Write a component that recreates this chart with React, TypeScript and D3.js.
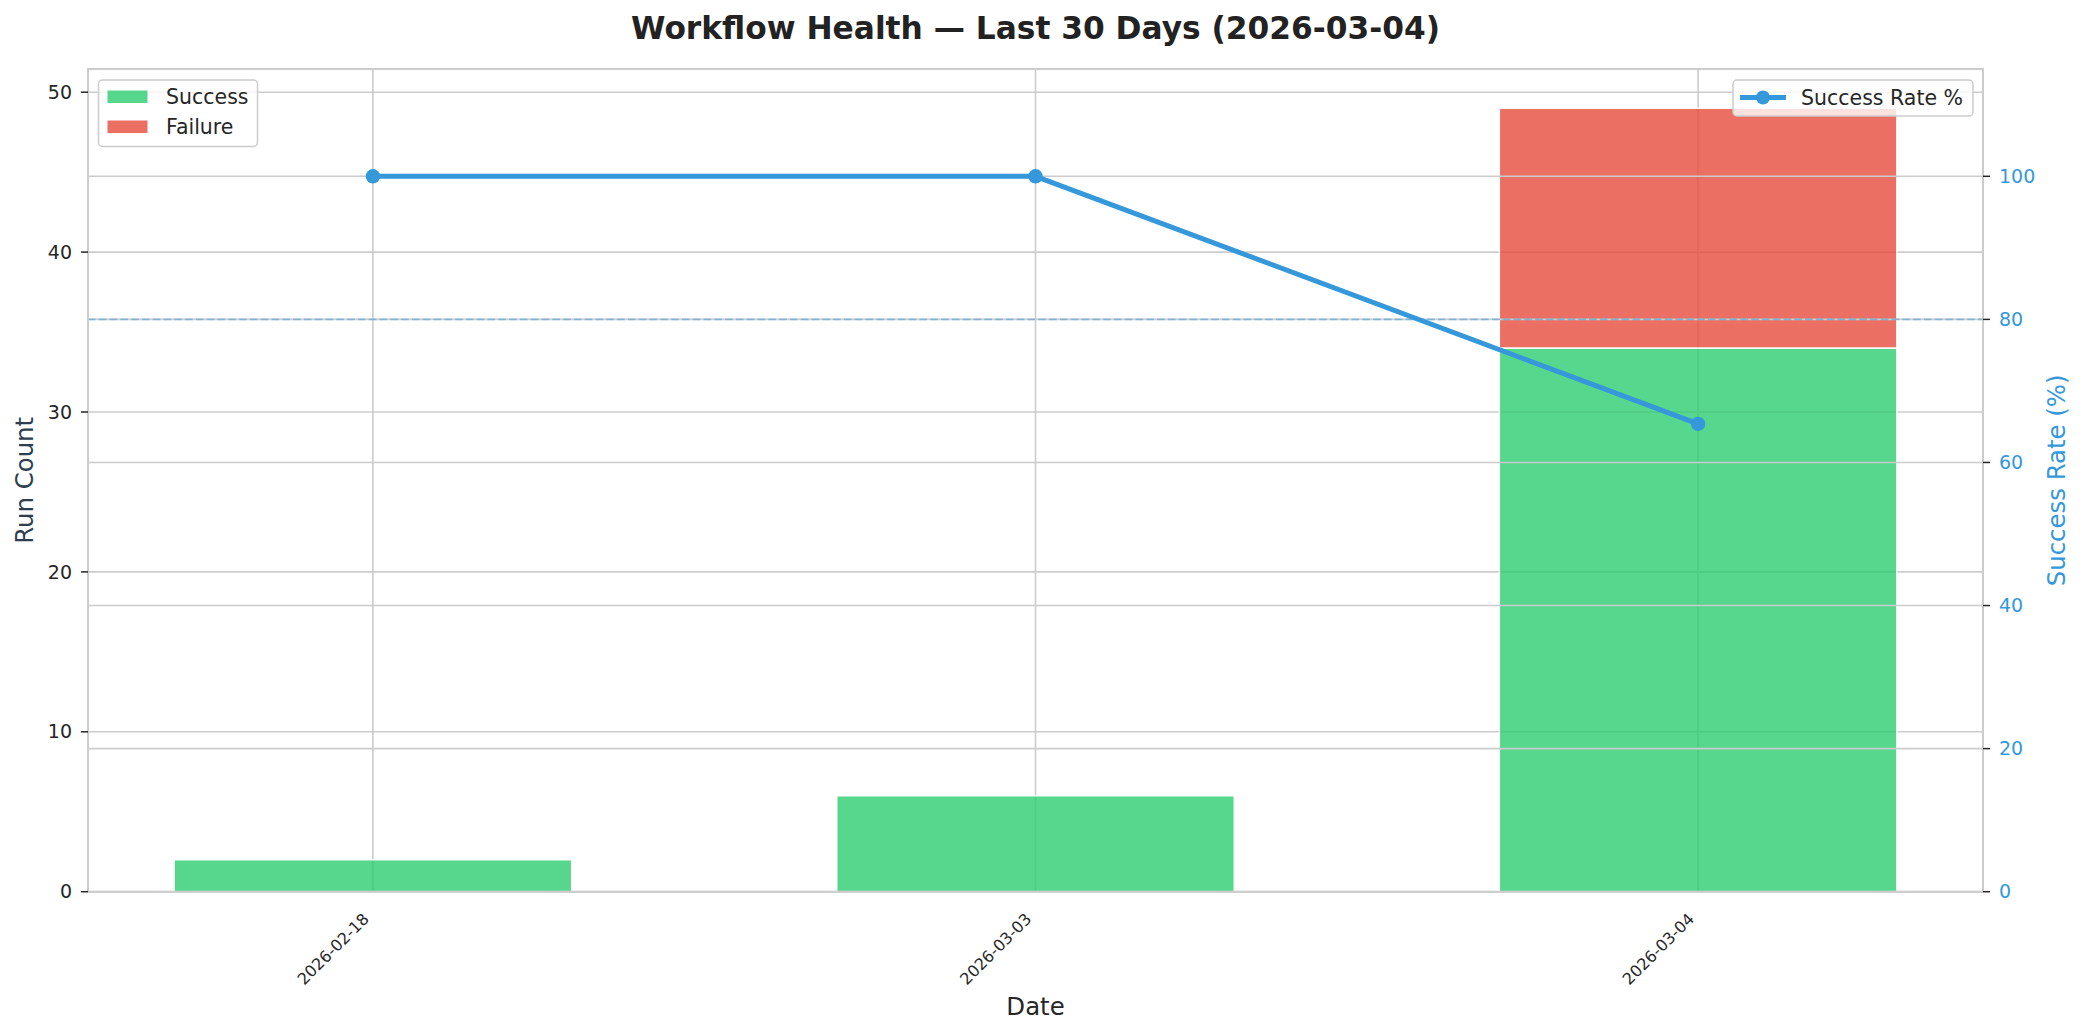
import React from 'react';
import * as d3 from 'd3';

const dates = ['2026-02-18', '2026-03-03', '2026-03-04'];
const successCounts = [2, 6, 34];
const failureCounts = [0, 0, 15];
const successRates = [100, 100, 65.4];
const leftTicks = [0, 10, 20, 30, 40, 50];
const rightTicks = [0, 20, 40, 60, 80, 100];
const targetRate = 80;
const titleText = 'Workflow Health — Last 30 Days (2026-03-04)';

const W = 2085;
const H = 1035;
const L = 88, R = 1983, T = 69, B = 891.7;
const FONT = 'DejaVu Sans, sans-serif';
const GREEN = '#2ecc71';
const RED = '#e74c3c';
const BLUE = '#3498db';
const GRID = '#cccccc';

export default function App() {
  const x = d3.scaleLinear().domain([-0.43, dates.length - 1 + 0.43]).range([L, R]);
  const maxTotal = d3.max(successCounts.map((s, i) => s + failureCounts[i])) as number;
  const yL = d3.scaleLinear().domain([0, maxTotal * 1.05]).range([B, T]);
  const yR = d3.scaleLinear().domain([0, 115]).range([B, T]);
  const bw = x(0.3) - x(-0.3);
  const line = d3.line<number>().x((_, i) => x(i)).y((d) => yR(d));

  return (
    <svg width={W} height={H} style={{ position: 'absolute', left: 0, top: 0, background: '#fff' }} fontFamily={FONT}>
      <rect x={0} y={0} width={W} height={H} fill="#fff" />
      {/* ax1 grid */}
      {leftTicks.map((t) => (
        <line key={'gl' + t} x1={L} x2={R} y1={yL(t)} y2={yL(t)} stroke={GRID} strokeWidth={1.6} />
      ))}
      {dates.map((d, i) => (
        <line key={'gx' + d} x1={x(i)} x2={x(i)} y1={T} y2={B} stroke={GRID} strokeWidth={1.6} />
      ))}
      {/* bars */}
      {dates.map((d, i) => (
        <g key={'bar' + d} opacity={0.8}>
          <rect x={x(i) - bw / 2} width={bw} y={yL(successCounts[i])} height={yL(0) - yL(successCounts[i])} fill={GREEN} stroke="#fff" strokeWidth={1.5} />
          {failureCounts[i] > 0 && (
            <rect x={x(i) - bw / 2} width={bw} y={yL(successCounts[i] + failureCounts[i])} height={yL(successCounts[i]) - yL(successCounts[i] + failureCounts[i])} fill={RED} stroke="#fff" strokeWidth={1.5} />
          )}
        </g>
      ))}
      {/* ax1 legend */}
      <g>
        <rect x={98.5} y={80} width={159} height={66.5} rx={4} fill="#fff" fillOpacity={0.8} stroke="#cccccc" strokeWidth={1.5} />
        <rect x={107} y={90} width={41} height={13.5} fill={GREEN} opacity={0.8} stroke="#fff" strokeWidth={1} />
        <text x={166} y={97} dy="0.35em" fontSize={20.5} fill="#262626">Success</text>
        <rect x={107} y={120} width={41} height={13.5} fill={RED} opacity={0.8} stroke="#fff" strokeWidth={1} />
        <text x={166} y={127} dy="0.35em" fontSize={20.5} fill="#262626">Failure</text>
      </g>
      {/* ax2 grid */}
      {rightTicks.map((t) => (
        <line key={'gr' + t} x1={L} x2={R} y1={yR(t)} y2={yR(t)} stroke={GRID} strokeWidth={1.6} />
      ))}
      {/* target line */}
      <line x1={L} x2={R} y1={yR(targetRate)} y2={yR(targetRate)} stroke={BLUE} strokeOpacity={0.5} strokeWidth={1.6} strokeDasharray="7.5,3.3" />
      {/* rate line */}
      <path d={line(successRates) as string} fill="none" stroke={BLUE} strokeWidth={5} strokeLinejoin="round" strokeLinecap="round" />
      {successRates.map((v, i) => (
        <circle key={'pt' + i} cx={x(i)} cy={yR(v)} r={7.2} fill={BLUE} />
      ))}
      {/* spines */}
      <rect x={L} y={T} width={R - L} height={B - T} fill="none" stroke={GRID} strokeWidth={2} />
      {/* ax2 legend */}
      <g>
        <rect x={1733} y={80} width={240} height={36} rx={4} fill="#fff" fillOpacity={0.8} stroke="#cccccc" strokeWidth={1.5} />
        <line x1={1740} x2={1786} y1={97.5} y2={97.5} stroke={BLUE} strokeWidth={5} />
        <circle cx={1763} cy={97.5} r={7} fill={BLUE} />
        <text x={1801} y={97.5} dy="0.35em" fontSize={20.5} fill="#262626">Success Rate %</text>
      </g>
      {/* left ticks */}
      {leftTicks.map((t) => (
        <g key={'lt' + t}>
          <line x1={L - 7} x2={L} y1={yL(t)} y2={yL(t)} stroke="#262626" strokeWidth={1.5} />
          <text x={72} y={yL(t)} dy="0.35em" textAnchor="end" fontSize={19} fill="#262626">{t}</text>
        </g>
      ))}
      {/* right ticks */}
      {rightTicks.map((t) => (
        <g key={'rt' + t}>
          <line x1={R} x2={R + 7} y1={yR(t)} y2={yR(t)} stroke="#262626" strokeWidth={1.5} />
          <text x={1999} y={yR(t)} dy="0.35em" textAnchor="start" fontSize={19} fill={BLUE}>{t}</text>
        </g>
      ))}
      {/* x tick labels */}
      {dates.map((d, i) => (
        <text key={'xt' + d} transform={`translate(${x(i) - 3},${920}) rotate(-45)`} textAnchor="end" fontSize={16} fill="#262626">{d}</text>
      ))}
      {/* axis labels */}
      <text x={(L + R) / 2} y={1015} textAnchor="middle" fontSize={24.4} fill="#262626">Date</text>
      <text transform={`translate(24,${(T + B) / 2}) rotate(-90)`} dy="0.35em" textAnchor="middle" fontSize={24.4} fill="#2c3e50">Run Count</text>
      <text transform={`translate(2056,${(T + B) / 2}) rotate(-90)`} dy="0.35em" textAnchor="middle" fontSize={24.4} fill={BLUE}>Success Rate (%)</text>
      {/* title */}
      <text x={(L + R) / 2} y={39} textAnchor="middle" fontSize={31.25} fontWeight="bold" fill="#222222">{titleText}</text>
    </svg>
  );
}
